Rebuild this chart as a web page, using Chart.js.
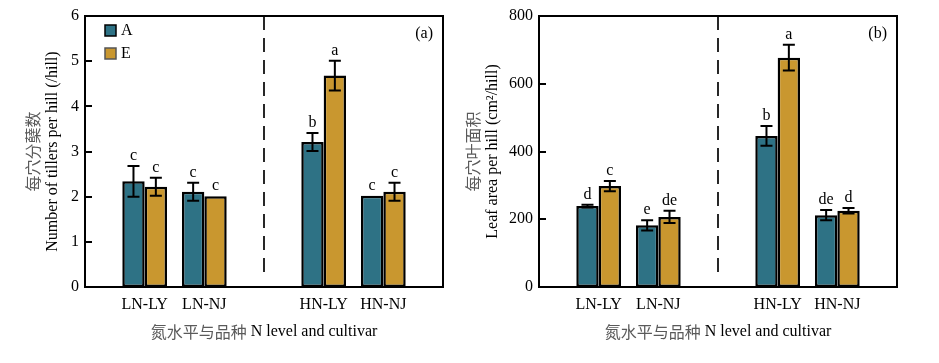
<!DOCTYPE html>
<html><head><meta charset="utf-8">
<script src="https://cdn.jsdelivr.net/npm/chart.js@4.4.1/dist/chart.umd.min.js"></script>
<style>
html,body{margin:0;padding:0;background:#fff;}
#wrap{position:relative;width:939px;height:363px;overflow:hidden;background:#fff;}
canvas{position:absolute;top:0;}
</style></head><body>
<div id="wrap">
<canvas id="c1" width="465" height="363" style="left:0px"></canvas>
<canvas id="c2" width="474" height="363" style="left:465px"></canvas>
</div>
<script>
const categories = ['LN-LY', 'LN-NJ', 'HN-LY', 'HN-NJ'];
const seriesNames = ['A', 'E'];
const tillersA = [2.34, 2.11, 3.21, 2.02];
const tillersE = [2.22, 2.01, 4.68, 2.11];
const tillersErrA = [0.34, 0.20, 0.20, 0];
const tillersErrE = [0.20, 0, 0.33, 0.20];
const tillersLetA = ['c', 'c', 'b', 'c'];
const tillersLetE = ['c', 'c', 'a', 'c'];
const leafA = [239, 182, 446, 212];
const leafE = [298, 207, 677, 225];
const leafErrA = [4, 15, 29, 15];
const leafErrE = [15, 18, 38, 8];
const leafLetA = ['d', 'e', 'b', 'de'];
const leafLetE = ['c', 'de', 'a', 'd'];
const tillerTicks = [0, 1, 2, 3, 4, 5, 6];
const leafTicks = [0, 200, 400, 600, 800];

const COLORS = ['#2e7285', '#c9972f'];
const SERIF = '"Liberation Serif","Times New Roman",serif';
const CJK = '"Noto Sans CJK SC","Noto Sans CJK JP",sans-serif';
Chart.defaults.color = '#000';
Chart.defaults.font.family = SERIF;
Chart.defaults.font.size = 16;

// slot layout: empty slots at both ends and between the N levels
const slots = [null, 0, 1, null, 2, 3, null];
const slotLabels = slots.map(i => i === null ? '' : categories[i]);
const toSlots = arr => slots.map(i => i === null ? null : arr[i]);

const deco = {
  id: 'deco',
  afterDatasetsDraw(chart, args, o) {
    const ctx = chart.ctx, ca = chart.chartArea, ys = chart.scales.y, xs = chart.scales.x;
    ctx.save();
    // divider
    const xd = Math.round(xs.getPixelForValue(3));
    ctx.strokeStyle = '#111'; ctx.lineWidth = 1.8; ctx.setLineDash([14, 8]);
    ctx.beginPath(); ctx.moveTo(xd, ca.top); ctx.lineTo(xd, ca.bottom - 11); ctx.stroke();
    ctx.setLineDash([]);
    // inward y ticks
    ctx.strokeStyle = '#000'; ctx.lineWidth = 2;
    ys.ticks.forEach(t => {
      const py = Math.round(ys.getPixelForValue(t.value));
      ctx.beginPath(); ctx.moveTo(ca.left, py); ctx.lineTo(ca.left + 7, py); ctx.stroke();
    });
    // error bars and letters
    chart.data.datasets.forEach((ds, di) => {
      const meta = chart.getDatasetMeta(di);
      meta.data.forEach((el, i) => {
        const v = ds.data[i]; if (v == null) return;
        const e = ds.errors[i] || 0;
        const px = el.x;
        const yt = ys.getPixelForValue(v + e), yb = ys.getPixelForValue(v - e);
        ctx.strokeStyle = '#000'; ctx.lineWidth = 2;
        if (e > 0) {
          ctx.beginPath();
          ctx.moveTo(px, yt); ctx.lineTo(px, yb);
          ctx.moveTo(px - 6, yt); ctx.lineTo(px + 6, yt);
          ctx.moveTo(px - 6, yb); ctx.lineTo(px + 6, yb);
          ctx.stroke();
        }
        ctx.fillStyle = '#000'; ctx.font = '16px ' + SERIF;
        ctx.textAlign = 'center'; ctx.textBaseline = 'alphabetic';
        ctx.fillText(ds.letters[i], px, yt - 6);
      });
    });
    // frame
    ctx.strokeStyle = '#000'; ctx.lineWidth = 2;
    ctx.strokeRect(ca.left, ca.top, ca.right - ca.left, ca.bottom - ca.top);
    // panel label
    ctx.fillStyle = '#000'; ctx.font = '16px ' + SERIF;
    ctx.textAlign = 'right'; ctx.textBaseline = 'middle';
    ctx.fillText(o.panel, ca.right - 10, ca.top + 18);
    // legend
    if (o.legend) {
      chart.data.datasets.forEach((ds, di) => {
        const lx = ca.left + 20, ly = ca.top + 9 + di * 23;
        ctx.fillStyle = ds.backgroundColor;
        ctx.fillRect(lx, ly, 11, 11);
        ctx.strokeStyle = di === 0 ? '#000' : '#555'; ctx.lineWidth = 1.5;
        ctx.strokeRect(lx, ly, 11, 11);
        ctx.fillStyle = '#000'; ctx.textAlign = 'left'; ctx.textBaseline = 'middle';
        ctx.font = '16px ' + SERIF;
        ctx.fillText(ds.label, lx + 16, ly + 6);
      });
    }
    // x title (Chinese grey + English black)
    const cy = 332;
    ctx.textBaseline = 'middle'; ctx.textAlign = 'left';
    ctx.font = '16px ' + CJK; const wz = ctx.measureText(o.xZh).width;
    ctx.font = '16px ' + SERIF; const we = ctx.measureText(' ' + o.xEn).width;
    let sx = (ca.left + ca.right) / 2 - (wz + we) / 2;
    ctx.font = '16px ' + CJK; ctx.fillStyle = '#5a5a5a'; ctx.fillText(o.xZh, sx, cy);
    ctx.font = '16px ' + SERIF; ctx.fillStyle = '#000'; ctx.fillText(' ' + o.xEn, sx + wz, cy);
    // y title
    const my = (ca.top + ca.bottom) / 2;
    ctx.save();
    ctx.translate(ca.left - o.yOff, my); ctx.rotate(-Math.PI / 2);
    ctx.textAlign = 'center';
    ctx.font = '16px ' + SERIF; ctx.fillStyle = '#000'; ctx.fillText(o.yEn, 0, 0);
    ctx.font = '16px ' + CJK; ctx.fillStyle = '#5a5a5a'; ctx.fillText(o.yZh, 0, -20);
    ctx.restore();
    ctx.restore();
  }
};

function makeChart(id, vals, errs, lets, ticks, ymax, yWidth, padRight, decoOpts) {
  return new Chart(document.getElementById(id), {
    type: 'bar',
    data: {
      labels: slotLabels,
      datasets: seriesNames.map((n, k) => ({
        label: n,
        data: toSlots(vals[k]),
        errors: toSlots(errs[k]),
        letters: toSlots(lets[k]),
        backgroundColor: COLORS[k],
        borderColor: '#000',
        borderWidth: 2.5,
        borderSkipped: false,
        categoryPercentage: 0.75,
        barPercentage: 1
      }))
    },
    options: {
      responsive: false, animation: false, devicePixelRatio: 1,
      layout: { padding: { left: 0, right: padRight, top: 16, bottom: 0 } },
      plugins: { legend: { display: false }, tooltip: { enabled: false }, deco: decoOpts },
      scales: {
        x: {
          type: 'category', offset: false,
          grid: { display: false, drawTicks: false }, border: { display: false },
          ticks: { padding: 8, maxRotation: 0, autoSkip: false, font: { size: 16 } },
          afterFit(s) { s.height = 76; }
        },
        y: {
          min: 0, max: ymax,
          afterBuildTicks(s) { s.ticks = ticks.map(v => ({ value: v })); },
          grid: { display: false, drawTicks: false },
          border: { display: false },
          ticks: { padding: 6, font: { size: 16 } },
          afterFit(s) { s.width = yWidth; }
        }
      }
    },
    plugins: [deco]
  });
}

makeChart('c1', [tillersA, tillersE], [tillersErrA, tillersErrE], [tillersLetA, tillersLetE],
  tillerTicks, 6, 85, 22,
  { panel: '(a)', legend: true, xZh: '氮水平与品种', xEn: 'N level and cultivar',
    yZh: '每穴分蘖数', yEn: 'Number of tillers per hill (/hill)', yOff: 32 });
makeChart('c2', [leafA, leafE], [leafErrA, leafErrE], [leafLetA, leafLetE],
  leafTicks, 800, 74, 42,
  { panel: '(b)', legend: false, xZh: '氮水平与品种', xEn: 'N level and cultivar',
    yZh: '每穴叶面积', yEn: 'Leaf area per hill (cm²/hill)', yOff: 46 });
</script>
</body></html>
